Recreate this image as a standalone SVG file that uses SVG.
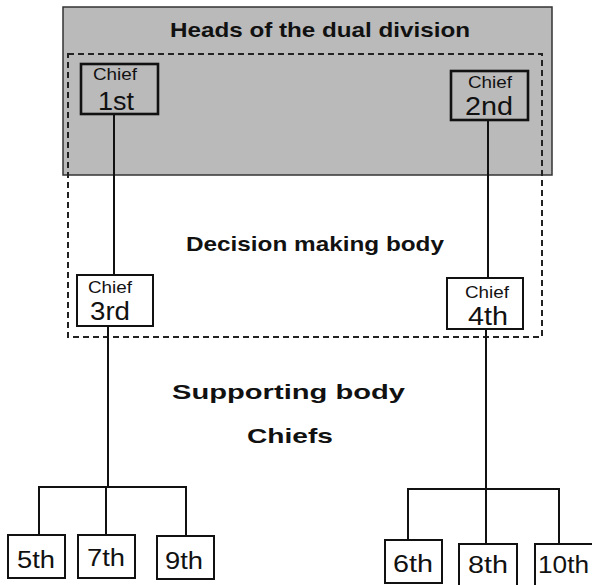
<svg xmlns="http://www.w3.org/2000/svg" width="592" height="585" viewBox="0 0 592 585">
<style>
.bg{fill:#ffffff}
.heads{fill:#bababa;stroke:#333;stroke-width:1.5}
.dash{fill:none;stroke:#222;stroke-width:2;stroke-dasharray:6 4}
.box{fill:none;stroke:#111;stroke-width:2}
.boxw{fill:#ffffff;stroke:#111;stroke-width:2}
.thick{stroke-width:2.6}
.line{fill:none;stroke:#111;stroke-width:2}
.title{font-family:"Liberation Sans",Arial,sans-serif;font-weight:bold;font-size:21px;fill:#111}
.small{font-family:"Liberation Sans",Arial,sans-serif;font-size:16px;fill:#111}
.big{font-family:"Liberation Sans",Arial,sans-serif;font-size:25px;fill:#111}
.num{font-family:"Liberation Sans",Arial,sans-serif;font-size:23px;fill:#111}
</style>
<rect class="bg" x="0" y="0" width="592" height="585"/>
<g id="heads-region">
<rect class="heads" x="63" y="7" width="489" height="168"/>
<text class="title" x="170" y="37" textLength="300" lengthAdjust="spacingAndGlyphs">Heads of the dual division</text>
</g>
<g id="decision-region">
<rect class="dash" x="68" y="54" width="474" height="283"/>
<text class="title" x="186" y="251" textLength="258" lengthAdjust="spacingAndGlyphs">Decision making body</text>
</g>
<g id="supporting-labels">
<text class="title" x="172" y="399" textLength="233" lengthAdjust="spacingAndGlyphs">Supporting body</text>
<text class="title" x="247" y="443" textLength="86" lengthAdjust="spacingAndGlyphs">Chiefs</text>
</g>
<g id="connectors">
<line class="line" x1="114" y1="114" x2="114" y2="275"/>
<line class="line" x1="488" y1="120" x2="488" y2="278"/>
<line class="line" x1="108" y1="326" x2="108" y2="487"/>
<line class="line" x1="38" y1="487" x2="186" y2="487"/>
<line class="line" x1="39" y1="487" x2="39" y2="535"/>
<line class="line" x1="106" y1="487" x2="106" y2="535"/>
<line class="line" x1="186" y1="486" x2="186" y2="536"/>
<line class="line" x1="486" y1="329" x2="486" y2="489"/>
<line class="line" x1="407" y1="489" x2="560" y2="489"/>
<line class="line" x1="408" y1="488" x2="408" y2="540"/>
<line class="line" x1="486" y1="489" x2="486" y2="544"/>
<line class="line" x1="559" y1="488" x2="559" y2="544"/>
</g>
<g id="chief-1st">
<rect class="box thick" x="81" y="64" width="77" height="50"/>
<text class="small" x="93" y="80" textLength="44" lengthAdjust="spacingAndGlyphs">Chief</text>
<text class="big" x="98" y="110" textLength="36" lengthAdjust="spacingAndGlyphs">1st</text>
</g>
<g id="chief-2nd">
<rect class="box thick" x="451" y="71" width="77" height="49"/>
<text class="small" x="468" y="88" textLength="44" lengthAdjust="spacingAndGlyphs">Chief</text>
<text class="big" x="465" y="115" textLength="48" lengthAdjust="spacingAndGlyphs">2nd</text>
</g>
<g id="chief-3rd">
<rect class="boxw" x="77" y="275" width="76" height="51"/>
<text class="small" x="88" y="293" textLength="44" lengthAdjust="spacingAndGlyphs">Chief</text>
<text class="big" x="90" y="320" textLength="40" lengthAdjust="spacingAndGlyphs">3rd</text>
</g>
<g id="chief-4th">
<rect class="boxw" x="447" y="278" width="76" height="51"/>
<text class="small" x="465" y="298" textLength="44" lengthAdjust="spacingAndGlyphs">Chief</text>
<text class="big" x="468" y="325" textLength="40" lengthAdjust="spacingAndGlyphs">4th</text>
</g>
<g id="chief-5th">
<rect class="boxw" x="8" y="535" width="57" height="43"/>
<text class="num" x="17" y="568" textLength="38" lengthAdjust="spacingAndGlyphs">5th</text>
</g>
<g id="chief-7th">
<rect class="boxw" x="78" y="535" width="57" height="43"/>
<text class="num" x="87" y="566" textLength="38" lengthAdjust="spacingAndGlyphs">7th</text>
</g>
<g id="chief-9th">
<rect class="boxw" x="157" y="536" width="57" height="43"/>
<text class="num" x="165" y="569" textLength="38" lengthAdjust="spacingAndGlyphs">9th</text>
</g>
<g id="chief-6th">
<rect class="boxw" x="385" y="540" width="57" height="43"/>
<text class="num" x="393" y="572" textLength="40" lengthAdjust="spacingAndGlyphs">6th</text>
</g>
<g id="chief-8th">
<rect class="boxw" x="459" y="544" width="58" height="42"/>
<text class="num" x="468" y="573" textLength="40" lengthAdjust="spacingAndGlyphs">8th</text>
</g>
<g id="chief-10th">
<rect class="boxw" x="535" y="544" width="58" height="42"/>
<text class="num" x="538" y="573" textLength="51" lengthAdjust="spacingAndGlyphs">10th</text>
</g>
</svg>
